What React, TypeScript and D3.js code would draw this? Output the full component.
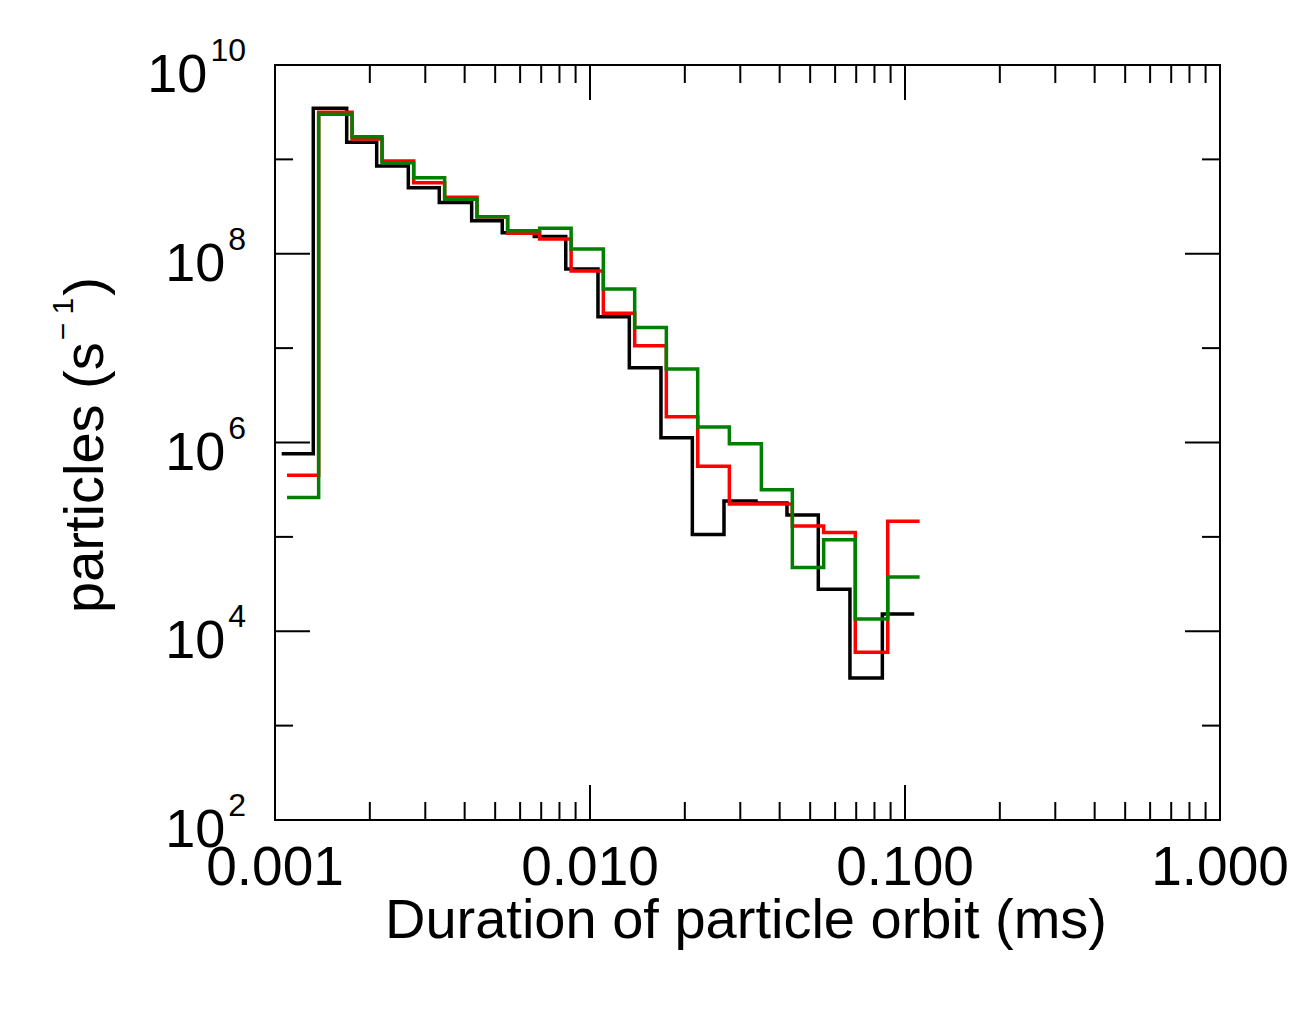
import React from "react";
import * as d3 from "d3";

// Bin edges (ms) for the black series; red and green bins are slightly shifted
const binEdges = [
  0.00105, 0.001323, 0.001689, 0.002103, 0.00265, 0.003323, 0.00421, 0.005266,
  0.006656, 0.008376, 0.0106, 0.01333, 0.0168, 0.02113, 0.02663, 0.03365,
  0.0422, 0.05306, 0.06687, 0.08474, 0.107,
];

const blackValues = [
  7.6e5, 3.48e9, 1.52e9, 8.5e8, 5.0e8, 3.5e8, 2.24e8, 1.67e8, 1.52e8, 6.9e7,
  2.15e7, 6.2e6, 1.12e6, 1.06e5, 2.4e5, 2.29e5, 1.71e5, 2.79e4, 3.2e3, 1.52e4,
];
const redValues = [
  4.5e5, 3.16e9, 1.64e9, 9.6e8, 5.66e8, 3.96e8, 2.45e8, 1.65e8, 1.43e8, 6.56e7,
  2.34e7, 1.06e7, 1.87e6, 5.6e5, 2.23e5, 2.23e5, 1.3e5, 1.11e5, 6.0e3, 1.46e5,
];
const greenValues = [
  2.62e5, 3.0e9, 1.74e9, 9.2e8, 6.4e8, 3.78e8, 2.47e8, 1.75e8, 1.86e8, 1.12e8,
  4.23e7, 1.65e7, 6.0e6, 1.46e6, 9.7e5, 3.16e5, 4.75e4, 9.3e4, 1.35e4, 3.76e4,
];
const seriesShift = [1.0, 1.04, 1.04];
const seriesColors = ["#000000", "#ff0000", "#008000"];

const xTickLabels = ["0.001", "0.010", "0.100", "1.000"];
const xMajorTicks = [0.001, 0.01, 0.1, 1];
const yMajorExponents = [2, 4, 6, 8, 10];
const yMinorExponents = [3, 5, 7, 9];

const W = 1314;
const H = 1034;
const L = 275, R = 1220, T = 65, B = 820;
const FONT = "'Liberation Sans', Arial, Helvetica, sans-serif";

export default function App() {
  const x = d3.scaleLog().domain([0.001, 1]).range([L, R]);
  const y = d3.scaleLog().domain([1e2, 1e10]).range([B, T]);

  const line = d3
    .line<[number, number]>()
    .x((d) => x(d[0]))
    .y((d) => y(d[1]))
    .curve(d3.curveStepAfter);

  const allSeries = [blackValues, redValues, greenValues];
  const paths = allSeries.map((vals, si) => {
    const pts: [number, number][] = vals.map((v, i) => [binEdges[i] * seriesShift[si], v]);
    pts.push([binEdges[vals.length] * seriesShift[si], vals[vals.length - 1]]);
    return line(pts) as string;
  });

  const xMinor: number[] = [];
  [0.001, 0.01, 0.1].forEach((dec) => {
    for (let k = 2; k <= 9; k++) xMinor.push(dec * k);
  });

  const MAJ = 35, MIN = 18;
  const tickStyle = { stroke: "#000", strokeWidth: 2 };

  return (
    <svg
      width={W}
      height={H}
      style={{ position: "absolute", left: 0, top: 0, display: "block", background: "#fff" }}
    >
      {/* series */}
      {paths.map((d, i) => (
        <path key={i} d={d} fill="none" stroke={seriesColors[i]} strokeWidth={3.5} strokeLinejoin="miter" strokeLinecap="butt" />
      ))}

      {/* frame */}
      <rect x={L} y={T} width={R - L} height={B - T} fill="none" stroke="#000" strokeWidth={2} />

      {/* x ticks */}
      {xMajorTicks.map((t, i) => (
        <g key={"xM" + i}>
          <line x1={x(t)} x2={x(t)} y1={B} y2={B - MAJ} {...tickStyle} />
          <line x1={x(t)} x2={x(t)} y1={T} y2={T + MAJ} {...tickStyle} />
        </g>
      ))}
      {xMinor.map((t, i) => (
        <g key={"xm" + i}>
          <line x1={x(t)} x2={x(t)} y1={B} y2={B - MIN} {...tickStyle} />
          <line x1={x(t)} x2={x(t)} y1={T} y2={T + MIN} {...tickStyle} />
        </g>
      ))}
      {/* y ticks */}
      {yMajorExponents.map((e, i) => (
        <g key={"yM" + i}>
          <line x1={L} x2={L + MAJ} y1={y(Math.pow(10, e))} y2={y(Math.pow(10, e))} {...tickStyle} />
          <line x1={R} x2={R - MAJ} y1={y(Math.pow(10, e))} y2={y(Math.pow(10, e))} {...tickStyle} />
        </g>
      ))}
      {yMinorExponents.map((e, i) => (
        <g key={"ym" + i}>
          <line x1={L} x2={L + MIN} y1={y(Math.pow(10, e))} y2={y(Math.pow(10, e))} {...tickStyle} />
          <line x1={R} x2={R - MIN} y1={y(Math.pow(10, e))} y2={y(Math.pow(10, e))} {...tickStyle} />
        </g>
      ))}

      {/* x tick labels */}
      {xMajorTicks.map((t, i) => (
        <text key={"xl" + i} x={x(t)} y={885} textAnchor="middle" fontFamily={FONT} fontSize={55} fill="#000">
          {xTickLabels[i]}
        </text>
      ))}
      {/* y tick labels */}
      {yMajorExponents.map((e, i) => (
        <text key={"yl" + i} x={246} y={y(Math.pow(10, e)) + 27} textAnchor="end" fontFamily={FONT} fontSize={54} fill="#000">
          10
          <tspan dx={3} dy={-31} fontSize={32}>{e}</tspan>
        </text>
      ))}

      {/* x title */}
      <text x={746} y={938} textAnchor="middle" fontFamily={FONT} fontSize={56} fill="#000">
        Duration of particle orbit (ms)
      </text>

      {/* y title */}
      <text
        transform={`translate(103,445) rotate(-90)`}
        textAnchor="middle"
        fontFamily={FONT}
        fontSize={56}
        fill="#000"
      >
        particles (s
        <tspan dx={2} dy={-30} fontSize={30}>{"\u2212 1"}</tspan>
        <tspan dx={2} dy={30}>)</tspan>
      </text>
    </svg>
  );
}
